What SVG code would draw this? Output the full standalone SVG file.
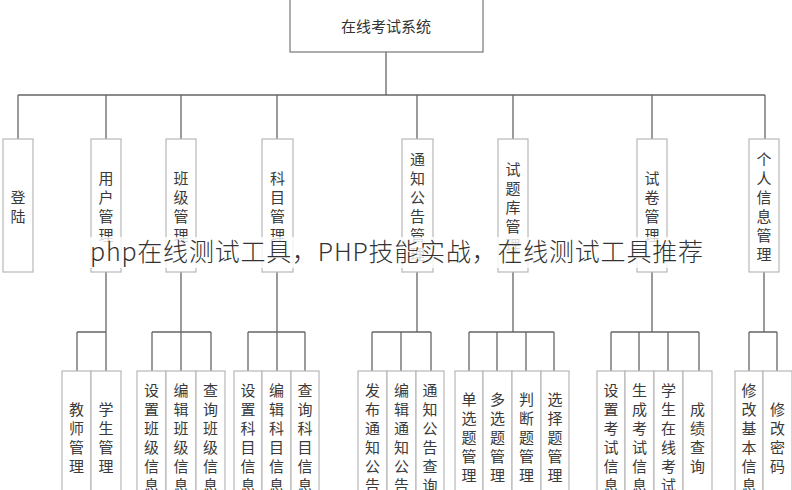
<svg xmlns="http://www.w3.org/2000/svg" width="792" height="490" viewBox="0 0 792 490">
<style>
.bg{fill:#fff}
.top{fill:#fff;stroke:#777;stroke-width:1.2}
.box{fill:#fff;stroke:#b8b8b8;stroke-width:1.2}
.conn{stroke:#666;stroke-width:1.3;fill:none}
.t{font-family:"Noto Sans CJK SC","Noto Sans",sans-serif;font-size:15px;fill:#3a3a3a;text-anchor:middle;dominant-baseline:central}
.title{font-family:"Noto Sans CJK SC","Noto Sans",sans-serif;font-size:15px;fill:#333;text-anchor:middle;dominant-baseline:central}
.wm{font-family:"Noto Sans CJK SC","Noto Sans",sans-serif;font-size:25px;font-weight:300;fill:#333}
</style>
<rect class="bg" x="0" y="0" width="792" height="490"/>
<g id="connectors">
<path class="conn" d="M386 52V95M18 95H765M18 95V139M106 95V139M181 95V139M277 95V139M417 95V139M513 95V139M652 95V139M765 95V139"/>
<path class="conn" d="M106 272V332M77 332H106M77 332V371M106 332V371"/>
<path class="conn" d="M181 272V332M152 332H211M152 332V371M181 332V371M211 332V371"/>
<path class="conn" d="M277 272V332M248 332H305M248 332V371M277 332V371M305 332V371"/>
<path class="conn" d="M417 272V332M372 332H431M372 332V371M401 332V371M431 332V371"/>
<path class="conn" d="M513 272V332M469 332H554M469 332V371M497 332V371M526 332V371M554 332V371"/>
<path class="conn" d="M652 272V332M611 332H699M611 332V371M639 332V371M668 332V371M699 332V371"/>
<path class="conn" d="M764 272V332M749 332H777M749 332V371M777 332V371"/>
</g>
<g id="root"><rect class="top" x="290" y="-5" width="193" height="57"/><text class="title" x="386" y="25">在线考试系统</text></g>
<g id="n-login"><rect class="box" x="3" y="139" width="30" height="133"/><text class="t"><tspan x="18" y="196">登</tspan><tspan x="18" y="215">陆</tspan></text></g>
<g id="n-user"><rect class="box" x="91" y="139" width="30" height="133"/><text class="t"><tspan x="106" y="177">用</tspan><tspan x="106" y="196">户</tspan><tspan x="106" y="215">管</tspan><tspan x="106" y="234">理</tspan></text></g>
<g id="n-class"><rect class="box" x="166" y="139" width="30" height="133"/><text class="t"><tspan x="181" y="177">班</tspan><tspan x="181" y="196">级</tspan><tspan x="181" y="215">管</tspan><tspan x="181" y="234">理</tspan></text></g>
<g id="n-subject"><rect class="box" x="262" y="139" width="31" height="133"/><text class="t"><tspan x="277.5" y="177">科</tspan><tspan x="277.5" y="196">目</tspan><tspan x="277.5" y="215">管</tspan><tspan x="277.5" y="234">理</tspan></text></g>
<g id="n-notice"><rect class="box" x="402" y="139" width="31" height="133"/><text class="t"><tspan x="417.5" y="158">通</tspan><tspan x="417.5" y="177">知</tspan><tspan x="417.5" y="196">公</tspan><tspan x="417.5" y="215">告</tspan><tspan x="417.5" y="234">管</tspan><tspan x="417.5" y="253">理</tspan></text></g>
<g id="n-bank"><rect class="box" x="498" y="139" width="30" height="133"/><text class="t"><tspan x="513" y="167.5">试</tspan><tspan x="513" y="186.5">题</tspan><tspan x="513" y="205.5">库</tspan><tspan x="513" y="224.5">管</tspan><tspan x="513" y="243.5">理</tspan></text></g>
<g id="n-paper"><rect class="box" x="637" y="139" width="30" height="133"/><text class="t"><tspan x="652" y="177">试</tspan><tspan x="652" y="196">卷</tspan><tspan x="652" y="215">管</tspan><tspan x="652" y="234">理</tspan></text></g>
<g id="n-personal"><rect class="box" x="749" y="139" width="30" height="133"/><text class="t"><tspan x="764" y="158">个</tspan><tspan x="764" y="177">人</tspan><tspan x="764" y="196">信</tspan><tspan x="764" y="215">息</tspan><tspan x="764" y="234">管</tspan><tspan x="764" y="253">理</tspan></text></g>

<g id="c-teacher"><rect class="box" x="62" y="371" width="29" height="130"/><text class="t"><tspan x="76.5" y="407.5">教</tspan><tspan x="76.5" y="426.5">师</tspan><tspan x="76.5" y="445.5">管</tspan><tspan x="76.5" y="464.5">理</tspan></text></g>
<g id="c-student"><rect class="box" x="91" y="371" width="30" height="130"/><text class="t"><tspan x="106" y="407.5">学</tspan><tspan x="106" y="426.5">生</tspan><tspan x="106" y="445.5">管</tspan><tspan x="106" y="464.5">理</tspan></text></g>

<g id="c-class-set"><rect class="box" x="137" y="371" width="29" height="130"/><text class="t"><tspan x="151.5" y="388.5">设</tspan><tspan x="151.5" y="407.5">置</tspan><tspan x="151.5" y="426.5">班</tspan><tspan x="151.5" y="445.5">级</tspan><tspan x="151.5" y="464.5">信</tspan><tspan x="151.5" y="483.5">息</tspan></text></g>
<g id="c-class-edit"><rect class="box" x="166" y="371" width="30" height="130"/><text class="t"><tspan x="181" y="388.5">编</tspan><tspan x="181" y="407.5">辑</tspan><tspan x="181" y="426.5">班</tspan><tspan x="181" y="445.5">级</tspan><tspan x="181" y="464.5">信</tspan><tspan x="181" y="483.5">息</tspan></text></g>
<g id="c-class-query"><rect class="box" x="196" y="371" width="29" height="130"/><text class="t"><tspan x="210.5" y="388.5">查</tspan><tspan x="210.5" y="407.5">询</tspan><tspan x="210.5" y="426.5">班</tspan><tspan x="210.5" y="445.5">级</tspan><tspan x="210.5" y="464.5">信</tspan><tspan x="210.5" y="483.5">息</tspan></text></g>

<g id="c-sub-set"><rect class="box" x="234" y="371" width="28" height="130"/><text class="t"><tspan x="248" y="388.5">设</tspan><tspan x="248" y="407.5">置</tspan><tspan x="248" y="426.5">科</tspan><tspan x="248" y="445.5">目</tspan><tspan x="248" y="464.5">信</tspan><tspan x="248" y="483.5">息</tspan></text></g>
<g id="c-sub-edit"><rect class="box" x="262" y="371" width="29" height="130"/><text class="t"><tspan x="276.5" y="388.5">编</tspan><tspan x="276.5" y="407.5">辑</tspan><tspan x="276.5" y="426.5">科</tspan><tspan x="276.5" y="445.5">目</tspan><tspan x="276.5" y="464.5">信</tspan><tspan x="276.5" y="483.5">息</tspan></text></g>
<g id="c-sub-query"><rect class="box" x="291" y="371" width="28" height="130"/><text class="t"><tspan x="305" y="388.5">查</tspan><tspan x="305" y="407.5">询</tspan><tspan x="305" y="426.5">科</tspan><tspan x="305" y="445.5">目</tspan><tspan x="305" y="464.5">信</tspan><tspan x="305" y="483.5">息</tspan></text></g>

<g id="c-notice-pub"><rect class="box" x="358" y="371" width="29" height="130"/><text class="t"><tspan x="372.5" y="388.5">发</tspan><tspan x="372.5" y="407.5">布</tspan><tspan x="372.5" y="426.5">通</tspan><tspan x="372.5" y="445.5">知</tspan><tspan x="372.5" y="464.5">公</tspan><tspan x="372.5" y="483.5">告</tspan></text></g>
<g id="c-notice-edit"><rect class="box" x="387" y="371" width="29" height="130"/><text class="t"><tspan x="401.5" y="388.5">编</tspan><tspan x="401.5" y="407.5">辑</tspan><tspan x="401.5" y="426.5">通</tspan><tspan x="401.5" y="445.5">知</tspan><tspan x="401.5" y="464.5">公</tspan><tspan x="401.5" y="483.5">告</tspan></text></g>
<g id="c-notice-query"><rect class="box" x="416" y="371" width="28" height="130"/><text class="t"><tspan x="430" y="388.5">通</tspan><tspan x="430" y="407.5">知</tspan><tspan x="430" y="426.5">公</tspan><tspan x="430" y="445.5">告</tspan><tspan x="430" y="464.5">查</tspan><tspan x="430" y="483.5">询</tspan></text></g>

<g id="c-single"><rect class="box" x="455" y="371" width="28" height="130"/><text class="t"><tspan x="469" y="398">单</tspan><tspan x="469" y="417">选</tspan><tspan x="469" y="436">题</tspan><tspan x="469" y="455">管</tspan><tspan x="469" y="474">理</tspan></text></g>
<g id="c-multi"><rect class="box" x="483" y="371" width="29" height="130"/><text class="t"><tspan x="497.5" y="398">多</tspan><tspan x="497.5" y="417">选</tspan><tspan x="497.5" y="436">题</tspan><tspan x="497.5" y="455">管</tspan><tspan x="497.5" y="474">理</tspan></text></g>
<g id="c-judge"><rect class="box" x="512" y="371" width="29" height="130"/><text class="t"><tspan x="526.5" y="398">判</tspan><tspan x="526.5" y="417">断</tspan><tspan x="526.5" y="436">题</tspan><tspan x="526.5" y="455">管</tspan><tspan x="526.5" y="474">理</tspan></text></g>
<g id="c-choice"><rect class="box" x="541" y="371" width="28" height="130"/><text class="t"><tspan x="555" y="398">选</tspan><tspan x="555" y="417">择</tspan><tspan x="555" y="436">题</tspan><tspan x="555" y="455">管</tspan><tspan x="555" y="474">理</tspan></text></g>

<g id="c-exam-set"><rect class="box" x="597" y="371" width="28" height="130"/><text class="t"><tspan x="611" y="388.5">设</tspan><tspan x="611" y="407.5">置</tspan><tspan x="611" y="426.5">考</tspan><tspan x="611" y="445.5">试</tspan><tspan x="611" y="464.5">信</tspan><tspan x="611" y="483.5">息</tspan></text></g>
<g id="c-exam-gen"><rect class="box" x="625" y="371" width="29" height="130"/><text class="t"><tspan x="639.5" y="388.5">生</tspan><tspan x="639.5" y="407.5">成</tspan><tspan x="639.5" y="426.5">考</tspan><tspan x="639.5" y="445.5">试</tspan><tspan x="639.5" y="464.5">信</tspan><tspan x="639.5" y="483.5">息</tspan></text></g>
<g id="c-exam-online"><rect class="box" x="654" y="371" width="29" height="130"/><text class="t"><tspan x="668.5" y="388.5">学</tspan><tspan x="668.5" y="407.5">生</tspan><tspan x="668.5" y="426.5">在</tspan><tspan x="668.5" y="445.5">线</tspan><tspan x="668.5" y="464.5">考</tspan><tspan x="668.5" y="483.5">试</tspan></text></g>
<g id="c-score"><rect class="box" x="683" y="371" width="29" height="130"/><text class="t"><tspan x="697.5" y="407.5">成</tspan><tspan x="697.5" y="426.5">绩</tspan><tspan x="697.5" y="445.5">查</tspan><tspan x="697.5" y="464.5">询</tspan></text></g>

<g id="c-info"><rect class="box" x="735" y="371" width="28" height="130"/><text class="t"><tspan x="749" y="388.5">修</tspan><tspan x="749" y="407.5">改</tspan><tspan x="749" y="426.5">基</tspan><tspan x="749" y="445.5">本</tspan><tspan x="749" y="464.5">信</tspan><tspan x="749" y="483.5">息</tspan></text></g>
<g id="c-pwd"><rect class="box" x="763" y="371" width="29" height="130"/><text class="t"><tspan x="777.5" y="407.5">修</tspan><tspan x="777.5" y="426.5">改</tspan><tspan x="777.5" y="445.5">密</tspan><tspan x="777.5" y="464.5">码</tspan></text></g>

<g id="watermark">
<rect x="86" y="237" width="624" height="31" fill="#fff" fill-opacity="0.8"/>
<text class="wm" x="90" y="261" textLength="613" lengthAdjust="spacing">php在线测试工具，PHP技能实战，在线测试工具推荐</text>
</g>
</svg>
